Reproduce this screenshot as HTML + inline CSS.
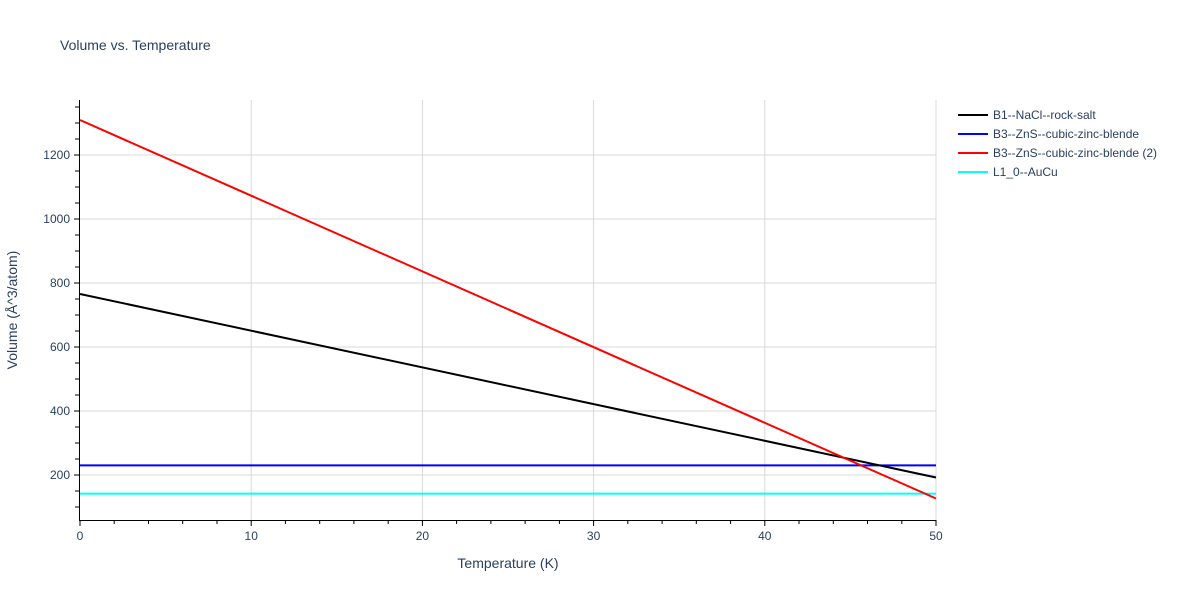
<!DOCTYPE html><html><head><style>body{margin:0;background:#fff}svg{font-family:"Liberation Sans",sans-serif}</style></head><body>
<svg width="1200" height="600" xmlns="http://www.w3.org/2000/svg">
<rect width="1200" height="600" fill="#fff"/>
<text x="60" y="50" font-size="14" fill="#2a3f5f">Volume vs. Temperature</text>
<g stroke="#d9d9d9" stroke-width="1">
<line x1="251.2" y1="100" x2="251.2" y2="520"/><line x1="422.4" y1="100" x2="422.4" y2="520"/><line x1="593.6" y1="100" x2="593.6" y2="520"/><line x1="764.8" y1="100" x2="764.8" y2="520"/><line x1="936" y1="100" x2="936" y2="520"/>
<line x1="80" y1="475" x2="936" y2="475"/><line x1="80" y1="411" x2="936" y2="411"/><line x1="80" y1="347" x2="936" y2="347"/><line x1="80" y1="283" x2="936" y2="283"/><line x1="80" y1="219" x2="936" y2="219"/><line x1="80" y1="155" x2="936" y2="155"/>
</g>
<g stroke="#000" stroke-width="1">
<line x1="79.5" y1="100" x2="79.5" y2="520.5"/><line x1="79" y1="520.5" x2="936" y2="520.5"/>
<path d="M80 520v6M251.2 520v6M422.4 520v6M593.6 520v6M764.8 520v6M936 520v6M114.2 520v4M148.5 520v4M182.7 520v4M217 520v4M285.4 520v4M319.7 520v4M353.9 520v4M388.2 520v4M456.6 520v4M490.9 520v4M525.1 520v4M559.4 520v4M627.8 520v4M662.1 520v4M696.3 520v4M730.6 520v4M799 520v4M833.3 520v4M867.5 520v4M901.8 520v4"/>
<path d="M74 475h6M74 411h6M74 347h6M74 283h6M74 219h6M74 155h6M75 507h5M75 491h5M75 459h5M75 443h5M75 427h5M75 395h5M75 379h5M75 363h5M75 331h5M75 315h5M75 299h5M75 267h5M75 251h5M75 235h5M75 203h5M75 187h5M75 171h5M75 139h5M75 123h5M75 107h5"/>
</g>
<g font-size="12" fill="#2a3f5f" text-anchor="middle">
<text x="80" y="540">0</text><text x="251.2" y="540">10</text><text x="422.4" y="540">20</text><text x="593.6" y="540">30</text><text x="764.8" y="540">40</text><text x="936" y="540">50</text>
</g>
<g font-size="12" fill="#2a3f5f" text-anchor="end">
<text x="70" y="479">200</text><text x="70" y="415">400</text><text x="70" y="351">600</text><text x="70" y="287">800</text><text x="70" y="223">1000</text><text x="70" y="159">1200</text>
</g>
<text x="508" y="568" font-size="14" fill="#2a3f5f" text-anchor="middle">Temperature (K)</text>
<text transform="translate(17,310) rotate(-90)" font-size="14" fill="#2a3f5f" text-anchor="middle">Volume (Å^3/atom)</text>
<line x1="80" y1="493.6" x2="936" y2="493.6" stroke="#00ffff" stroke-width="2"/>
<line x1="80" y1="465.4" x2="936" y2="465.4" stroke="#0000ff" stroke-width="2"/>
<line x1="80" y1="294" x2="936" y2="477.5" stroke="#000" stroke-width="2"/>
<line x1="80" y1="120" x2="936" y2="498.5" stroke="#ff0000" stroke-width="2"/>
<g font-size="12" fill="#2a3f5f">
<line x1="958" y1="115" x2="988" y2="115" stroke="#000" stroke-width="2"/><text x="993" y="119">B1--NaCl--rock-salt</text>
<line x1="958" y1="134" x2="988" y2="134" stroke="#0000ff" stroke-width="2"/><text x="993" y="138">B3--ZnS--cubic-zinc-blende</text>
<line x1="958" y1="153" x2="988" y2="153" stroke="#ff0000" stroke-width="2"/><text x="993" y="157">B3--ZnS--cubic-zinc-blende (2)</text>
<line x1="958" y1="172" x2="988" y2="172" stroke="#00ffff" stroke-width="2"/><text x="993" y="176">L1_0--AuCu</text>
</g>
</svg></body></html>
